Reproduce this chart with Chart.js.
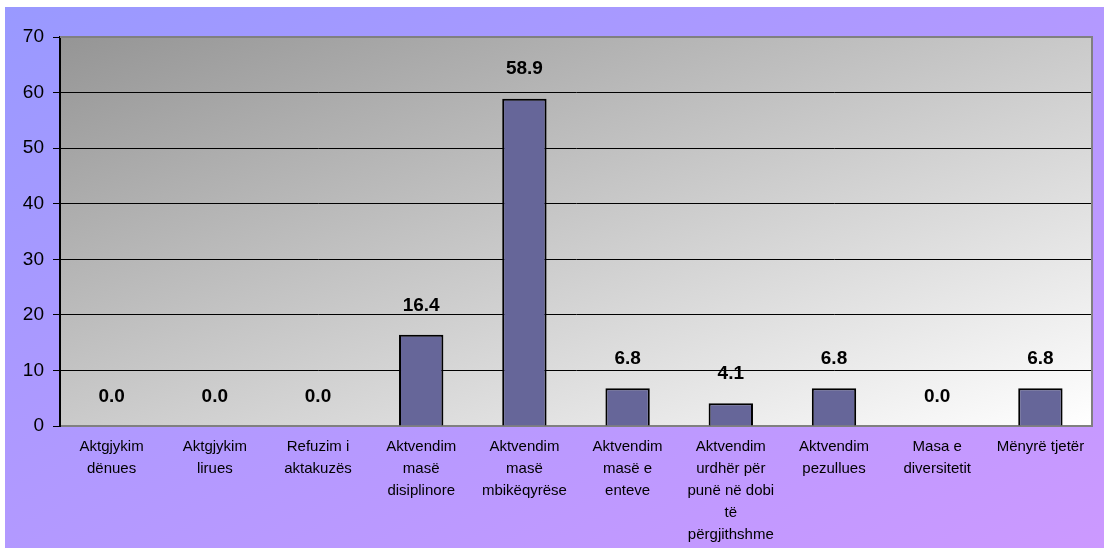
<!DOCTYPE html>
<html>
<head>
<meta charset="utf-8">
<script src="https://cdn.jsdelivr.net/npm/chart.js@4.4.1/dist/chart.umd.min.js"></script>
<style>
  html, body { margin: 0; padding: 0; background: #fff; }
  #wrap { width: 1104px; height: 548px; position: relative; }
</style>
</head>
<body>
<div id="wrap"><canvas id="barChart"></canvas></div>
<script>
const categories = [
  ["Aktgjykim", "dënues"],
  ["Aktgjykim", "lirues"],
  ["Refuzim i", "aktakuzës"],
  ["Aktvendim", "masë", "disiplinore"],
  ["Aktvendim", "masë", "mbikëqyrëse"],
  ["Aktvendim", "masë e", "enteve"],
  ["Aktvendim", "urdhër për", "punë në dobi", "të", "përgjithshme"],
  ["Aktvendim", "pezullues"],
  ["Masa e", "diversitetit"],
  ["Mënyrë tjetër"],
];
const values = [0.0, 0.0, 0.0, 16.4, 58.9, 6.8, 4.1, 6.8, 0.0, 6.8];
const yTicks = [0, 10, 20, 30, 40, 50, 60, 70];

const FONT = "'Liberation Sans', Arial, sans-serif";

// diagonal gradient that runs corner to corner in normalised box space
function boxGradient(ctx, x, y, w, h, c0, c1) {
  const len = Math.sqrt(w * w + h * h);
  const proj = (2 * w * h) / len;
  const dx = (h / len) * proj;
  const dy = (w / len) * proj;
  const g = ctx.createLinearGradient(x, y, x + dx, y + dy);
  g.addColorStop(0, c0);
  g.addColorStop(1, c1);
  return g;
}

const backgrounds = {
  id: "backgrounds",
  beforeDraw(chart) {
    const ctx = chart.ctx;
    const a = chart.chartArea;
    ctx.save();
    ctx.fillStyle = "#ffffff";
    ctx.fillRect(0, 0, chart.width, chart.height);
    ctx.fillStyle = boxGradient(ctx, 5, 7, chart.width - 5, chart.height - 7, "#9999ff", "#cc99ff");
    ctx.fillRect(5, 7, chart.width - 5, chart.height - 7);
    ctx.fillStyle = boxGradient(ctx, a.left, a.top, a.right - a.left, a.bottom - a.top, "#959595", "#ffffff");
    ctx.fillRect(a.left, a.top, a.right - a.left, a.bottom - a.top);
    ctx.restore();
  },
  afterDraw(chart) {
    const ctx = chart.ctx;
    const a = chart.chartArea;
    ctx.save();
    ctx.strokeStyle = "#808080";
    ctx.lineWidth = 2;
    ctx.beginPath();
    ctx.moveTo(a.left, a.top);
    ctx.lineTo(a.right, a.top);
    ctx.lineTo(a.right, a.bottom);
    ctx.stroke();
    ctx.restore();
  },
};

const valueLabels = {
  id: "valueLabels",
  afterDatasetsDraw(chart) {
    const ctx = chart.ctx;
    const meta = chart.getDatasetMeta(0);
    ctx.save();
    ctx.font = "bold 19px " + FONT;
    ctx.fillStyle = "#000";
    ctx.textAlign = "center";
    ctx.textBaseline = "bottom";
    meta.data.forEach((bar, i) => {
      ctx.fillText(values[i].toFixed(1), bar.x, bar.y - 20);
    });
    ctx.restore();
  },
};

const myChart = new Chart(document.getElementById("barChart").getContext("2d"), {
  type: "bar",
  data: {
    labels: categories,
    datasets: [
      {
        data: values,
        backgroundColor: "#666699",
        borderColor: "#000000",
        borderWidth: 2,
        borderSkipped: "bottom",
        barPercentage: 0.43,
        categoryPercentage: 1,
      },
    ],
  },
  plugins: [backgrounds, valueLabels],
  options: {
    responsive: true,
    maintainAspectRatio: false,
    animation: { duration: 0 },
    layout: { padding: { left: 5, top: 37, right: 12, bottom: 0 } },
    plugins: {
      legend: { display: false },
      tooltip: { enabled: false },
    },
    scales: {
      x: {
        grid: { display: false, drawTicks: false },
        border: { color: "#808080", width: 2 },
        ticks: {
          color: "#000",
          font: { family: FONT, size: 15, lineHeight: 1.47 },
          padding: 10,
          maxRotation: 0,
          autoSkip: false,
        },
        afterFit(scale) { scale.height = 122; },
      },
      y: {
        min: 0,
        max: 70,
        afterBuildTicks(scale) { scale.ticks = yTicks.map((v) => ({ value: v })); },
        grid: { color: "#000000", lineWidth: 1, tickLength: 7, tickColor: "#000" },
        border: { color: "#000000", width: 2 },
        ticks: {
          color: "#000",
          font: { family: FONT, size: 19 },
          padding: 9,
        },
        afterFit(scale) { scale.width = 55; },
      },
    },
  },
});
</script>
</body>
</html>
